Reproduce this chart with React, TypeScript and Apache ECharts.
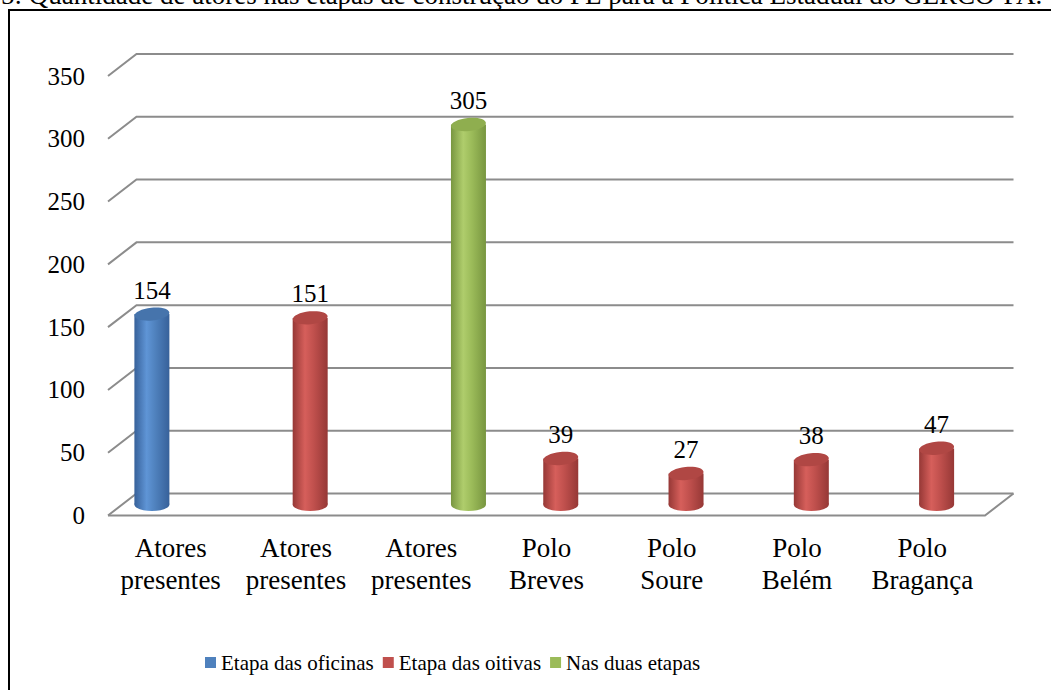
import React, { useEffect, useRef } from "react";
import * as echarts from "echarts";

const categories = [
  "Atores\npresentes",
  "Atores\npresentes",
  "Atores\npresentes",
  "Polo\nBreves",
  "Polo\nSoure",
  "Polo\nBelém",
  "Polo\nBragança",
];
const seriesNames = ["Etapa das oficinas", "Etapa das oitivas", "Nas duas etapas"];
const oficinas: (number | null)[] = [154, null, null, null, null, null, null];
const oitivas: (number | null)[] = [null, 151, null, 39, 27, 38, 47];
const duasEtapas: (number | null)[] = [null, null, 305, null, null, null, null];
const yTicks = [0, 50, 100, 150, 200, 250, 300, 350];
const titleText =
  "5: Quantidade de atores nas etapas de construção do PE para a Política Estadual do GERCO-PA.";

const FONT = "Liberation Serif, Times New Roman, serif";
const DEPTH_X = 28.5;
const DEPTH_Y = -22;
const SLOT = 33;
const BAR_W = 35;
const RY = 6.5;

const palettes = [
  { base: "#4f81bd", edge: "#37619a", light: "#5f95d6", top: "#4674ac" },
  { base: "#c0504d", edge: "#963836", light: "#d65f5b", top: "#b04744" },
  { base: "#9bbb59", edge: "#789640", light: "#afcd6c", top: "#8fae4f" },
];

function toPairs(vals: (number | null)[]) {
  const out: number[][] = [];
  vals.forEach((v, i) => {
    if (v !== null) out.push([i, v]);
  });
  return out;
}

export default function App() {
  const ref = useRef<HTMLDivElement>(null);
  useEffect(() => {
    if (!ref.current) return;
    const chart = echarts.init(ref.current, null, { renderer: "svg" });

    const barSeries = [oficinas, oitivas, duasEtapas].map((vals, s) => {
      const p = palettes[s];
      return {
        type: "custom",
        name: seriesNames[s],
        z: 3,
        itemStyle: { color: p.base },
        encode: { x: 0, y: 1 },
        data: toPairs(vals),
        renderItem: (params: any, api: any) => {
          const idx = api.value(0);
          const v = api.value(1);
          const base = api.coord([idx, 0]);
          const top = api.coord([idx, v]);
          const cx = base[0] + DEPTH_X / 2 + (s - 1) * SLOT;
          const by = base[1] + DEPTH_Y / 2;
          const ty = top[1] + DEPTH_Y / 2 + 3;
          const grad = new echarts.graphic.LinearGradient(0, 0, 1, 0, [
            { offset: 0, color: p.edge },
            { offset: 0.35, color: p.light },
            { offset: 0.6, color: p.base },
            { offset: 1, color: p.edge },
          ]);
          return {
            type: "group",
            children: [
              {
                type: "ellipse",
                shape: { cx, cy: by, rx: BAR_W / 2, ry: RY },
                style: { fill: grad },
              },
              {
                type: "rect",
                shape: { x: cx - BAR_W / 2, y: ty, width: BAR_W, height: by - ty },
                style: { fill: grad },
              },
              {
                type: "ellipse",
                shape: { cx, cy: ty, rx: BAR_W / 2, ry: RY },
                rotation: 0.1,
                originX: cx,
                originY: ty,
                style: { fill: p.top },
              },
              {
                type: "text",
                x: cx,
                y: ty - 24,
                style: {
                  text: String(v),
                  fill: "#000",
                  fontSize: 25,
                  fontFamily: FONT,
                  align: "center",
                  verticalAlign: "middle",
                },
              },
            ],
          };
        },
      };
    });

    const wallSeries = {
      type: "custom",
      name: "walls",
      z: 1,
      silent: true,
      encode: { x: 0, y: 1 },
      data: yTicks.map((t) => [0, t]),
      renderItem: (params: any, api: any) => {
        const cs = params.coordSys;
        const v = api.value(1);
        const y = api.coord([0, v])[1];
        const left = cs.x;
        const right = cs.x + cs.width;
        const lineStyle = { stroke: "#8c8c8c", lineWidth: 2, fill: null };
        const children: any[] = [
          {
            type: "polyline",
            shape: {
              points: [
                [left, y],
                [left + DEPTH_X, y + DEPTH_Y],
                [right + DEPTH_X, y + DEPTH_Y],
              ],
            },
            style: lineStyle,
          },
        ];
        if (v === 0) {
          children.push({
            type: "polyline",
            shape: {
              points: [
                [left, y],
                [right, y],
                [right + DEPTH_X, y + DEPTH_Y],
              ],
            },
            style: lineStyle,
          });
        }
        return { type: "group", children };
      },
    };

    chart.setOption({
      animation: false,
      backgroundColor: "#fff",
      textStyle: { fontFamily: FONT },
      graphic: [
        {
          type: "rect",
          shape: { x: 9, y: 10, width: 1100, height: 720 },
          style: { fill: null, stroke: "#000", lineWidth: 2 },
          z: 0,
        },
        {
          type: "text",
          x: 1,
          y: -5,
          style: {
            text: titleText,
            fill: "#000",
            fontSize: 27,
            fontFamily: FONT,
            align: "left",
            verticalAlign: "middle",
          },
        },
      ],
      legend: {
        left: 200,
        top: 647,
        icon: "rect",
        itemWidth: 11,
        itemHeight: 11,
        itemGap: 9,
        data: seriesNames,
        selectedMode: false,
        textStyle: { fontSize: 21, color: "#000", fontFamily: FONT },
      },
      grid: { left: 108, top: 76, right: 66, bottom: 174.5, containLabel: false },
      xAxis: {
        type: "category",
        data: categories,
        axisLine: { show: false },
        axisTick: { show: false },
        splitLine: { show: false },
        axisLabel: {
          interval: 0,
          fontSize: 27,
          lineHeight: 32,
          color: "#000",
          fontFamily: FONT,
          margin: 16,
        },
      },
      yAxis: {
        type: "value",
        min: 0,
        max: 350,
        interval: 50,
        axisLine: { show: false },
        axisTick: { show: false },
        splitLine: { show: false },
        axisLabel: { fontSize: 25, color: "#000", fontFamily: FONT, margin: 23 },
      },
      series: [wallSeries, ...barSeries],
    });
    return () => chart.dispose();
  }, []);
  return <div ref={ref} style={{ width: 1051, height: 690, position: "absolute", left: 0, top: 0 }} />;
}
